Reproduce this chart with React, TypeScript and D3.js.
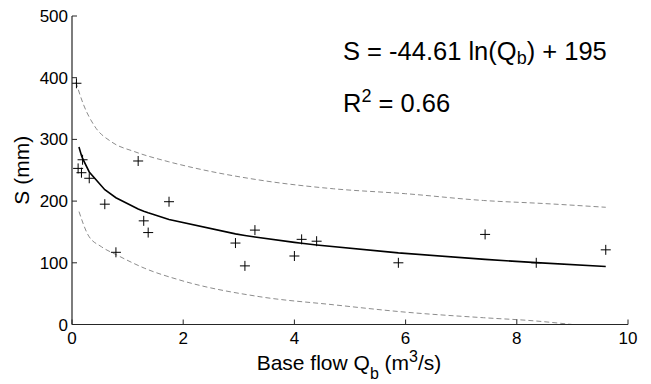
import React from "react";
import * as d3 from "d3";

const qb = [0.08, 0.11, 0.17, 0.19, 0.31, 0.59, 0.79, 1.19, 1.29, 1.37, 1.745, 2.94, 3.11, 3.29, 4.0, 4.13, 4.4, 5.87, 7.43, 8.35, 9.6];
const sVals = [391, 253, 246, 267, 237, 195, 117, 265, 168, 149, 199, 132, 95, 153, 111, 138, 135, 100, 146, 100, 121];

const fitA = -44.61;
const fitB = 195;
const fitX = [0.125, 0.17, 0.19, 0.31, 0.59, 0.79, 1.19, 1.29, 1.37, 1.745, 2.94, 3.11, 3.29, 4.0, 4.13, 4.4, 5.87, 7.43, 8.35, 9.6];

const upperX = [0.07, 0.2, 0.41, 0.71, 1.13, 1.73, 2.09, 3.38, 4.7, 6.0, 7.4, 8.5, 9.6];
const upperY = [393, 358, 321, 296, 280, 264, 256, 234, 220, 212, 201, 196, 190];
const lowerX = [0.126, 0.29, 0.53, 0.8, 1.31, 1.94, 3.38, 4.7, 6.0, 7.4, 8.3, 9.0];
const lowerY = [183, 145, 126, 113, 91, 72, 45, 32, 20, 11, 6, 0];

const xTicks = [0, 2, 4, 6, 8, 10];
const yTicks = [0, 100, 200, 300, 400, 500];

const W = 651;
const H = 384;
const L = 72;
const R = 628;
const T = 16;
const B = 324.5;

export default function App() {
  const x = d3.scaleLinear().domain([0, 10]).range([L, R]);
  const y = d3.scaleLinear().domain([0, 500]).range([B, T]);

  const fitLine = d3
    .line<number>()
    .x((d) => x(d))
    .y((d) => y(fitA * Math.log(d) + fitB))(fitX) as string;

  const upperLine = d3
    .line<number>()
    .x((d) => x(d))
    .y((_, i) => y(upperY[i]))
    .curve(d3.curveMonotoneX)(upperX) as string;

  const lowerLine = d3
    .line<number>()
    .x((d) => x(d))
    .y((_, i) => y(lowerY[i]))
    .curve(d3.curveMonotoneX)(lowerX) as string;

  const font = "'Liberation Sans', Arial, Helvetica, sans-serif";
  const axisColor = "#262626";

  return (
    <svg
      width={W}
      height={H}
      viewBox={`0 0 ${W} ${H}`}
      style={{ position: "absolute", left: 0, top: 0, background: "#fff" }}
      fontFamily={font}
    >
      <rect x={0} y={0} width={W} height={H} fill="#fff" />
      <defs>
        <clipPath id="plotClip">
          <rect x={L} y={T} width={R - L} height={B - T} />
        </clipPath>
      </defs>

      <g clipPath="url(#plotClip)">
        <path d={upperLine} fill="none" stroke="#8c8c8c" strokeWidth={1} strokeDasharray="5,3" />
        <path d={lowerLine} fill="none" stroke="#8c8c8c" strokeWidth={1} strokeDasharray="5,3" />
        <path d={fitLine} fill="none" stroke="#000" strokeWidth={1.6} />
        {qb.map((q, i) => {
          const cx = x(q);
          const cy = y(sVals[i]);
          return (
            <g key={i} stroke="#000" strokeWidth={1}>
              <line x1={cx - 5} x2={cx + 5} y1={cy} y2={cy} />
              <line x1={cx} x2={cx} y1={cy - 5} y2={cy + 5} />
            </g>
          );
        })}
      </g>

      {/* axes */}
      <line x1={L} x2={L} y1={T} y2={B} stroke={axisColor} strokeWidth={1.2} />
      <line x1={L} x2={R} y1={B} y2={B} stroke={axisColor} strokeWidth={1.2} />
      {yTicks.map((t) => (
        <g key={"y" + t}>
          <line x1={L} x2={L + 5} y1={y(t)} y2={y(t)} stroke={axisColor} strokeWidth={1} />
          <text x={L - 4} y={y(t) + 6} textAnchor="end" fontSize={17} fill="#000">
            {t}
          </text>
        </g>
      ))}
      {xTicks.map((t) => (
        <g key={"x" + t}>
          <line x1={x(t)} x2={x(t)} y1={B} y2={B - 5} stroke={axisColor} strokeWidth={1} />
          <text x={x(t)} y={343.5} textAnchor="middle" fontSize={17} fill="#000">
            {t}
          </text>
        </g>
      ))}

      {/* axis labels */}
      <text x={349} y={369.5} textAnchor="middle" fontSize={21} fill="#000">
        Base flow Q
        <tspan fontSize={16} dy={9}>b</tspan>
        <tspan dy={-9}> (m</tspan>
        <tspan fontSize={16} dy={-8}>3</tspan>
        <tspan dy={8}>/s)</tspan>
      </text>
      <text
        transform={`translate(29, ${(T + B) / 2}) rotate(-90)`}
        textAnchor="middle"
        fontSize={21}
        fill="#000"
      >
        S (mm)
      </text>

      {/* equation */}
      <text x={343} y={60} fontSize={25.5} fill="#000">
        S = -44.61 ln(Q
        <tspan fontSize={18} dy={4}>b</tspan>
        <tspan dy={-4}>) + 195</tspan>
      </text>
      <text x={343} y={112} fontSize={25.5} fill="#000">
        R
        <tspan fontSize={18} dy={-10}>2</tspan>
        <tspan dy={10}> = 0.66</tspan>
      </text>
    </svg>
  );
}
